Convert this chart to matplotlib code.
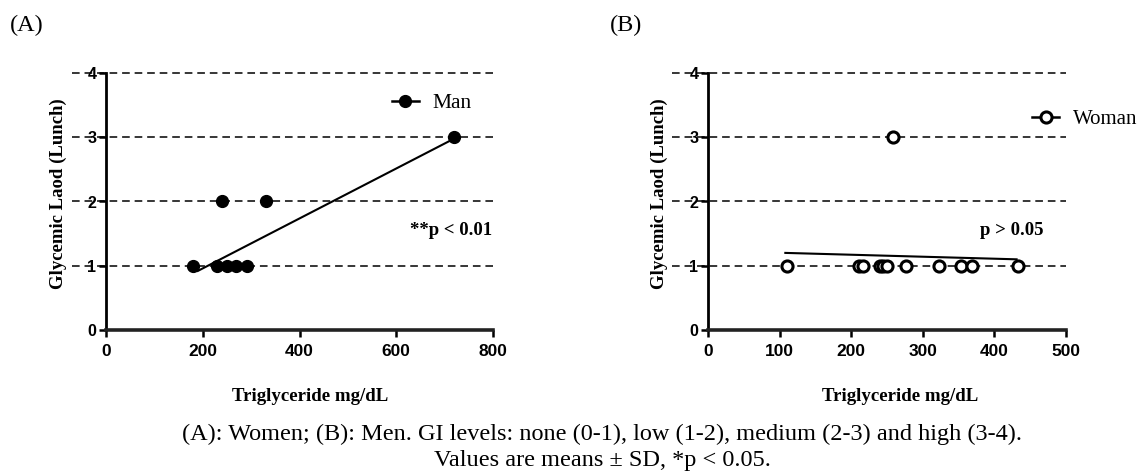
import matplotlib
matplotlib.use("Agg")
import matplotlib.pyplot as plt
from matplotlib.lines import Line2D
import matplotlib.transforms as mtransforms

# ---- data ----
man_tg = [180, 229, 240, 250, 269, 291, 330, 720]
man_gl = [1, 1, 2, 1, 1, 1, 2, 3]
man_fit_x = [190, 720]
man_fit_y = [0.92, 2.98]

woman_tg = [111, 211, 216, 240, 245, 250, 259, 276, 323, 354, 369, 433]
woman_gl = [1, 1, 1, 1, 1, 1, 3, 1, 1, 1, 1, 1]
woman_fit_x = [108, 431]
woman_fit_y = [1.20, 1.10]

yticks = [0, 1, 2, 3, 4]
xticks_a = [0, 200, 400, 600, 800]
xticks_b = [0, 100, 200, 300, 400, 500]

SERIF = "Liberation Serif"
SANS = "Liberation Sans"

fig = plt.figure(figsize=(11.39, 4.73), dpi=100)
W, H = 1139, 473
TOP, BOT = 73, 330

def make_ax(left_px, right_px):
    return fig.add_axes([left_px / W, 1 - BOT / H, (right_px - left_px) / W, (BOT - TOP) / H])

axA = make_ax(106, 493)
axB = make_ax(708, 1066)

def style(ax, xticks, grid_start, ylab_x, xlab_x):
    ax.set_ylim(0, 4)
    ax.set_xlim(xticks[0], xticks[-1])
    ax.set_yticks(yticks)
    ax.set_xticks(xticks)
    for s in ["top", "right"]:
        ax.spines[s].set_visible(False)
    ax.spines["left"].set_linewidth(2.0)
    ax.spines["bottom"].set_linewidth(2.6)
    ax.spines["bottom"].set_color("#222222")
    ax.tick_params(axis="both", width=1.8, length=5, direction="out")
    ax.tick_params(axis="x", pad=5)
    ax.tick_params(axis="y", pad=2)
    for lab in ax.get_xticklabels():
        lab.set_fontfamily(SANS)
        lab.set_fontweight("bold")
        lab.set_fontsize(12.5)
    for lab in ax.get_yticklabels():
        lab.set_fontfamily(SANS)
        lab.set_fontweight("bold")
        lab.set_fontsize(11.5)
    trans = mtransforms.blended_transform_factory(ax.transAxes, ax.transData)
    for yv in yticks[1:]:
        ax.plot([grid_start, 1.0], [yv, yv], transform=trans, color="black",
                linestyle=(0, (5, 3.2)), linewidth=1.1, clip_on=False, zorder=1)
    ax.set_ylabel("Glycemic Laod (Lunch)", fontfamily=SERIF, fontweight="bold",
                  fontsize=13.5, va="center")
    ax.yaxis.set_label_coords(ylab_x, 0.529)
    ax.set_xlabel("Triglyceride mg/dL", fontfamily=SERIF, fontweight="bold",
                  fontsize=13.6, va="center")
    ax.xaxis.set_label_coords(xlab_x, -0.257)

style(axA, xticks_a, -0.088, -48 / 387, (310 - 106) / 387)
style(axB, xticks_b, -0.10, -49 / 358, (900 - 708) / 358)

# Panel A
axA.plot(man_fit_x, man_fit_y, color="black", linewidth=1.5, zorder=3)
axA.plot(man_tg, man_gl, linestyle="none", marker="o", markersize=8.5,
         color="black", zorder=4)
hA = Line2D([], [], color="black", marker="o", markersize=8.5, linewidth=1.8)
axA.legend([hA], ["Man"], loc="center left", bbox_to_anchor=(0.739, 0.883),
           frameon=False, borderpad=0, borderaxespad=0, handlelength=1.25,
           handletextpad=0.65, prop={"family": SERIF, "size": 15.5})
axA.text(0.997, 1.55, "**p < 0.01",
         transform=mtransforms.blended_transform_factory(axA.transAxes, axA.transData),
         ha="right", va="center", fontfamily=SERIF, fontweight="bold", fontsize=13.5)

# Panel B
axB.plot(woman_fit_x, woman_fit_y, color="black", linewidth=1.5, zorder=3)
axB.plot(woman_tg, woman_gl, linestyle="none", marker="o", markersize=8,
         markerfacecolor="white", markeredgecolor="black", markeredgewidth=2.2, zorder=4)
hB = Line2D([], [], color="black", marker="o", markersize=8, linewidth=1.8,
            markerfacecolor="white", markeredgewidth=2.2)
axB.legend([hB], ["Woman"], loc="center left", bbox_to_anchor=(0.905, 0.821),
           frameon=False, borderpad=0, borderaxespad=0, handlelength=1.3,
           handletextpad=0.65, prop={"family": SERIF, "size": 15})
axB.text(424, 1.55, "p > 0.05", ha="center", va="center",
         fontfamily=SERIF, fontweight="bold", fontsize=13.5)

# Panel labels
fig.text(10 / W, 1 - 25 / H, "(A)", fontfamily=SERIF, fontsize=17.5, va="center", ha="left")
fig.text(610 / W, 1 - 25 / H, "(B)", fontfamily=SERIF, fontsize=17.5, va="center", ha="left")

# Caption
fig.text(602 / W, 1 - 440 / H,
         "(A): Women; (B): Men. GI levels: none (0-1), low (1-2), medium (2-3) and high (3-4).",
         fontfamily=SERIF, fontsize=17.5, ha="center", va="baseline")
fig.text(602 / W, 1 - 466 / H, "Values are means \u00b1 SD, *p < 0.05.",
         fontfamily=SERIF, fontsize=17.5, ha="center", va="baseline")

fig.savefig("out.png", dpi=100)
